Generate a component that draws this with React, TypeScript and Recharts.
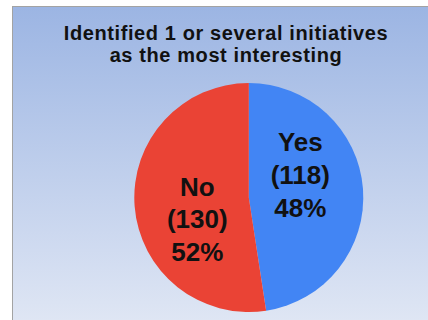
import React from "react";
import { PieChart, Pie, Cell } from "recharts";

const answers = ["Yes", "No"];
const respondents = [118, 130];
const sliceColors = ["#4285f4", "#ea4335"];
const titleLines = ["Identified 1 or several initiatives", "as the most interesting"];

const data = answers.map((name, i) => ({ name, value: respondents[i] }));

const RADIAN = Math.PI / 180;

const renderLabel = (props: any) => {
  const { cx, cy, midAngle, outerRadius, percent, name, value } = props;
  const angle = (midAngle + 19) * RADIAN;
  const r = outerRadius * 0.49;
  const x = cx + r * Math.cos(angle);
  const y = cy - r * Math.sin(angle);
  return (
    <text
      x={x}
      y={y}
      textAnchor="middle"
      fill="#111"
      fontFamily="'Liberation Sans', Arial, sans-serif"
      fontWeight="bold"
      fontSize={26}
    >
      <tspan x={x} dy={-24}>{name}</tspan>
      <tspan x={x} dy={32.5}>({value})</tspan>
      <tspan x={x} dy={33}>{Math.round(percent * 100)}%</tspan>
    </text>
  );
};

export default function App() {
  return (
    <div style={{ position: "fixed", left: 0, top: 0, width: 428, height: 320, background: "#fff", overflow: "hidden" }}>
      <div
        style={{
          position: "absolute",
          left: 12,
          top: 6,
          width: 416,
          height: 314,
          borderLeft: "1.5px solid #a3a3a3",
          borderTop: "1.5px solid #a3a3a3",
          background: "linear-gradient(to bottom, #9cb5e3, #dfe6f4)",
        }}
      />
      <div
        style={{
          position: "absolute",
          left: 26,
          top: 22,
          width: 400,
          textAlign: "center",
          fontFamily: "'Liberation Sans', Arial, sans-serif",
          fontWeight: "bold",
          fontSize: 20,
          lineHeight: "22px",
          letterSpacing: 0.6,
          color: "#111",
        }}
      >
        {titleLines.map((line) => (
          <div key={line}>{line}</div>
        ))}
      </div>
      <div style={{ position: "absolute", left: 0, top: 0 }}>
        <PieChart width={428} height={320} margin={{ top: 0, right: 0, bottom: 0, left: 0 }}>
          <Pie
            data={data}
            dataKey="value"
            nameKey="name"
            cx={248.8}
            cy={197.5}
            outerRadius={114.5}
            startAngle={90}
            endAngle={-270}
            stroke="none"
            labelLine={false}
            label={renderLabel}
            isAnimationActive={false}
          >
            {data.map((d, i) => (
              <Cell key={d.name} fill={sliceColors[i]} />
            ))}
          </Pie>
        </PieChart>
      </div>
    </div>
  );
}
